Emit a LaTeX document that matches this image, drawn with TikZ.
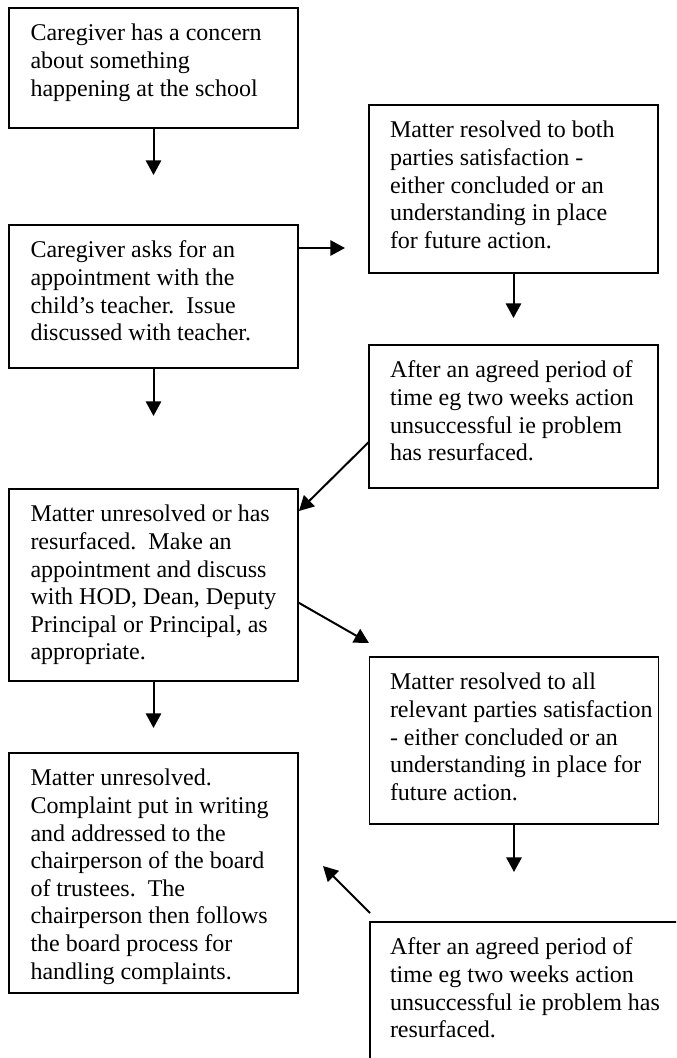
\documentclass[tikz,border=0pt]{standalone}
\usepackage{fontspec}
\setmainfont{Liberation Serif}
\usetikzlibrary{arrows.meta}
\tikzset{
  box/.style={draw, line width=1.4pt, inner sep=0pt, outer sep=0pt, anchor=north west, minimum width=216.75pt},
  txt/.style={inner sep=0pt, outer sep=0pt, anchor=north west, align=left, font=\fontsize{18pt}{20.7pt}\selectfont},
  arr/.style={line width=1.5pt, -{Triangle[length=11pt,width=11.5pt]}}
}
\newcommand{\fl}{\rule{0pt}{14pt}}
\begin{document}
\begin{tikzpicture}[x=0.75pt,y=-0.75pt]
\useasboundingbox (0,0) rectangle (676,1058);
\clip (0,0) rectangle (676,1058);
% boxes
\node[box, minimum height=90pt] (b1) at (9,8) {};
\node[box, minimum height=107.25pt] (b2) at (9,225) {};
\node[box, minimum height=126pt] (r1) at (369,105) {};
\node[box, minimum height=107.25pt] (r2) at (369,345) {};
\node[box, minimum height=144pt] (b3) at (9,489) {};
\node[box, minimum height=125.25pt] (r3) at (369.5,657) {};
\node[box, minimum height=180pt] (b4) at (9,753) {};
\node[box, minimum width=300pt, minimum height=150pt] (r4) at (370,922) {};
% texts
\node[txt] (t1) at ([shift={(21.5,14.3)}]b1.north west) {\fl Caregiver has a concern\\about something\\happening at the school};
\node[txt] (t2) at ([shift={(21.5,14.3)}]b2.north west) {\fl Caregiver asks for an\\appointment with the\\child’s teacher.\ \ Issue\\discussed with teacher.};
\node[txt] (tr1) at ([shift={(21,14.3)}]r1.north west) {\fl Matter resolved to both\\parties satisfaction -\\either concluded or an\\understanding in place\\for future action.};
\node[txt] (tr2) at ([shift={(21,14.3)}]r2.north west) {\fl After an agreed period of\\time eg two weeks action\\unsuccessful ie problem\\has resurfaced.};
\node[txt] (t3) at ([shift={(21.5,14.3)}]b3.north west) {\fl Matter unresolved or has\\resurfaced.\ \ Make an\\appointment and discuss\\with HOD, Dean, Deputy\\Principal or Principal, as\\appropriate.};
\node[txt] (tr3) at ([shift={(20.5,14.3)}]r3.north west) {\fl Matter resolved to all\\relevant parties satisfaction\\- either concluded or an\\understanding in place for\\future action.};
\begin{scope}
\clip (9,753) rectangle (298,985);
\node[txt] (t4) at ([shift={(21.5,14.3)}]b4.north west) {\fl Matter unresolved.\\Complaint put in writing\\and addressed to the\\chairperson of the board\\of trustees.\ \ The\\chairperson then follows\\the board process for\\handling complaints.};
\end{scope}
\node[txt] (tr4) at ([shift={(20,14.3)}]r4.north west) {\fl After an agreed period of\\time eg two weeks action\\unsuccessful ie problem has\\resurfaced.};
% arrow end points
\coordinate (e1) at (b1.south |- 0,175);
\coordinate (e2) at (345,248);
\coordinate (e3) at (r1.south |- 0,318);
\coordinate (e4) at (b2.south |- 0,416);
\coordinate (e5) at (299,511);
\coordinate (e6) at (369,643);
\coordinate (e7) at (b3.south |- 0,728);
\coordinate (e8) at (r3.south |- 0,872);
\coordinate (e9) at (323,866);
% arrows
\draw[arr] (b1.south) -- (e1);
\draw[arr] (b2.east |- e2) -- (e2);
\draw[arr] (r1.south) -- (e3);
\draw[arr] (b2.south) -- (e4);
\draw[arr] ([yshift=-19pt]r2.west) -- (e5);
\draw[arr] ([yshift=-13pt]b3.east) -- (e6);
\draw[arr] (b3.south) -- (e7);
\draw[arr] (r3.south) -- (e8);
\draw[arr] ([yshift=6.75pt]r4.north west) -- (e9);
\end{tikzpicture}
\end{document}
